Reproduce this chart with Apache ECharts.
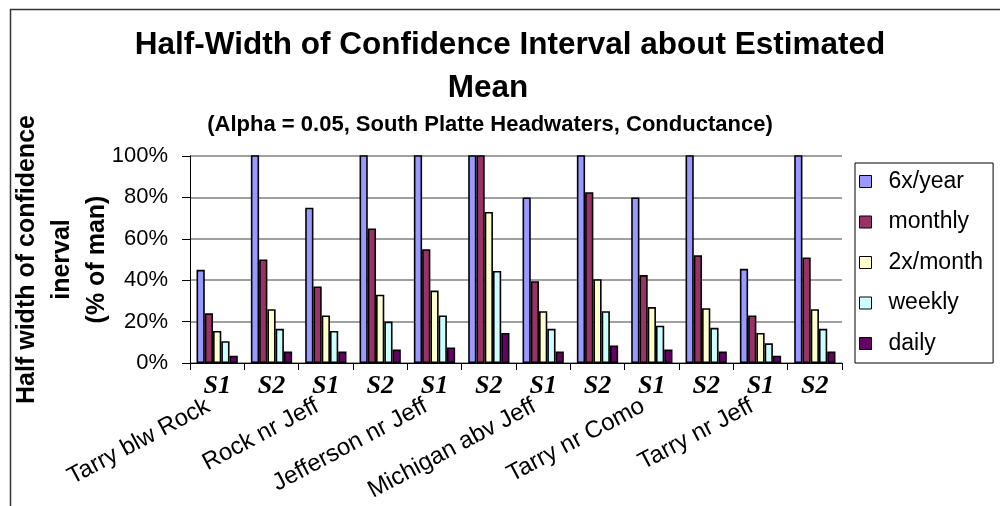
<!DOCTYPE html>
<html>
<head>
<meta charset="utf-8">
<script src="https://cdn.jsdelivr.net/npm/echarts@6/dist/echarts.min.js"></script>
<style>
html,body{margin:0;padding:0;background:#fff;}
#chart{width:1000px;height:506px;}
</style>
</head>
<body>
<div id="chart"></div>
<script>
// ---- data ----
var categories = ['S1','S2','S1','S2','S1','S2','S1','S2','S1','S2','S1','S2'];
var sites = ['Tarry blw Rock','Rock nr Jeff','Jefferson nr Jeff','Michigan abv Jeff','Tarry nr Como','Tarry nr Jeff'];
var seriesNames = ['6x/year','monthly','2x/month','weekly','daily'];
var sixPerYear = [45, 150, 75, 150, 150, 150, 80, 150, 80, 150, 45.5, 150];
var monthly    = [24, 50, 37, 65, 55, 120, 39.5, 82.5, 42.5, 52, 23, 51];
var twicePerMonth = [15.5, 26, 23, 33, 35, 73, 25, 40.5, 27, 26.5, 14.5, 26];
var weekly     = [10.5, 16.5, 15.5, 20, 23, 44.5, 16.5, 25, 18, 17, 9.5, 16.5];
var daily      = [3.5, 5.5, 5.5, 6.5, 7.5, 14.5, 5.5, 8.5, 6.5, 5.5, 3.5, 5.5];
var yTicks = [0, 20, 40, 60, 80, 100];
var titleLines = ['Half-Width of Confidence Interval about Estimated', 'Mean'];
var subtitle = '(Alpha = 0.05, South Platte Headwaters, Conductance)';
var yAxisTitle = 'Half width of confidence\ninerval\n(% of man)';

var seriesData = [sixPerYear, monthly, twicePerMonth, weekly, daily];
var colors = ['#9999FF','#993366','#FFFFCC','#CCFFFF','#660066'];

var chart = echarts.init(document.getElementById('chart'), null, {renderer:'canvas'});
var series = seriesNames.map(function(n, i){
  return {
    name: n, type: 'bar', data: seriesData[i],
    barGap: '0%', barCategoryGap: '24%',
    clip: true,
    itemStyle: {color: colors[i], borderColor: '#000', borderWidth: 1.6},
    emphasis: {disabled: true}
  };
});

var titleFont = {fontFamily: 'Liberation Sans, Arial', fontWeight: 'bold', color: '#000'};
var option = {
  animation: false,
  backgroundColor: '#fff',
  title: [{
    text: titleLines[0], left: 510, top: 23, textAlign: 'center', padding: 0,
    textStyle: Object.assign({fontSize: 31.5, lineHeight: 45}, titleFont)
  }, {
    text: titleLines[1], left: 488, top: 66, textAlign: 'center', padding: 0,
    textStyle: Object.assign({fontSize: 31.5, lineHeight: 45}, titleFont)
  }, {
    text: subtitle, left: 490, top: 114, textAlign: 'center', padding: 0,
    textStyle: Object.assign({fontSize: 22, lineHeight: 22}, titleFont)
  }],
  legend: {
    orient: 'vertical', left: 855, top: 163,
    padding: [7, 10, 8, 4],
    itemWidth: 12, itemHeight: 12, itemGap: 17.5,
    borderColor: '#000', borderWidth: 1, borderRadius: 0,
    icon: 'rect',
    itemStyle: {borderColor: '#000', borderWidth: 1},
    textStyle: {fontFamily: 'Liberation Sans, Arial', fontSize: 23, lineHeight: 22, color: '#000', padding: [0,0,0,12]},
    data: seriesNames
  },
  grid: {left: 190, right: 158, top: 156, bottom: 143, containLabel: false, outerBoundsMode: 'none'},
  xAxis: [{
    type: 'category', data: categories,
    axisLine: {lineStyle: {color: '#000', width: 1}},
    axisTick: {show: true, length: 7, lineStyle: {color: '#000'}},
    axisLabel: {interval: 0, margin: 10, fontFamily: 'Liberation Serif, Times New Roman', fontStyle: 'italic', fontWeight: 'bold', fontSize: 26, color: '#000'}
  }, {
    type: 'category', data: categories, position: 'bottom',
    axisLine: {show: false}, axisTick: {show: false}, splitLine: {show: false},
    axisLabel: {
      interval: 0, rotate: 28, margin: 37, padding: [0, 10, 0, 0],
      fontFamily: 'Liberation Sans, Arial', fontSize: 24, color: '#000',
      formatter: function(v, i){ return i % 2 === 0 ? sites[i / 2] : ''; }
    }
  }],
  yAxis: {
    type: 'value', min: yTicks[0], max: yTicks[yTicks.length-1], interval: yTicks[1]-yTicks[0],
    name: yAxisTitle,
    nameLocation: 'middle', nameRotate: 90, nameGap: 75, nameMoveOverlap: false,
    nameTextStyle: {fontFamily: 'Liberation Sans, Arial', fontWeight: 'bold', fontSize: 25, lineHeight: 35, color: '#000'},
    axisLine: {show: true, lineStyle: {color: '#000', width: 1}},
    axisTick: {show: true, length: 8, lineStyle: {color: '#000'}},
    axisLabel: {margin: 22, fontFamily: 'Liberation Sans, Arial', fontSize: 22, color: '#000', formatter: '{value}%'},
    splitLine: {show: true, lineStyle: {color: '#808080', width: 1.5}}
  },
  graphic: [{
    type: 'rect', left: 8, top: 7, silent: true,
    shape: {width: 1200, height: 800},
    style: {fill: 'none', stroke: '#333', lineWidth: 1.5}
  }],
  series: series
};
chart.setOption(option);
</script>
</body>
</html>
